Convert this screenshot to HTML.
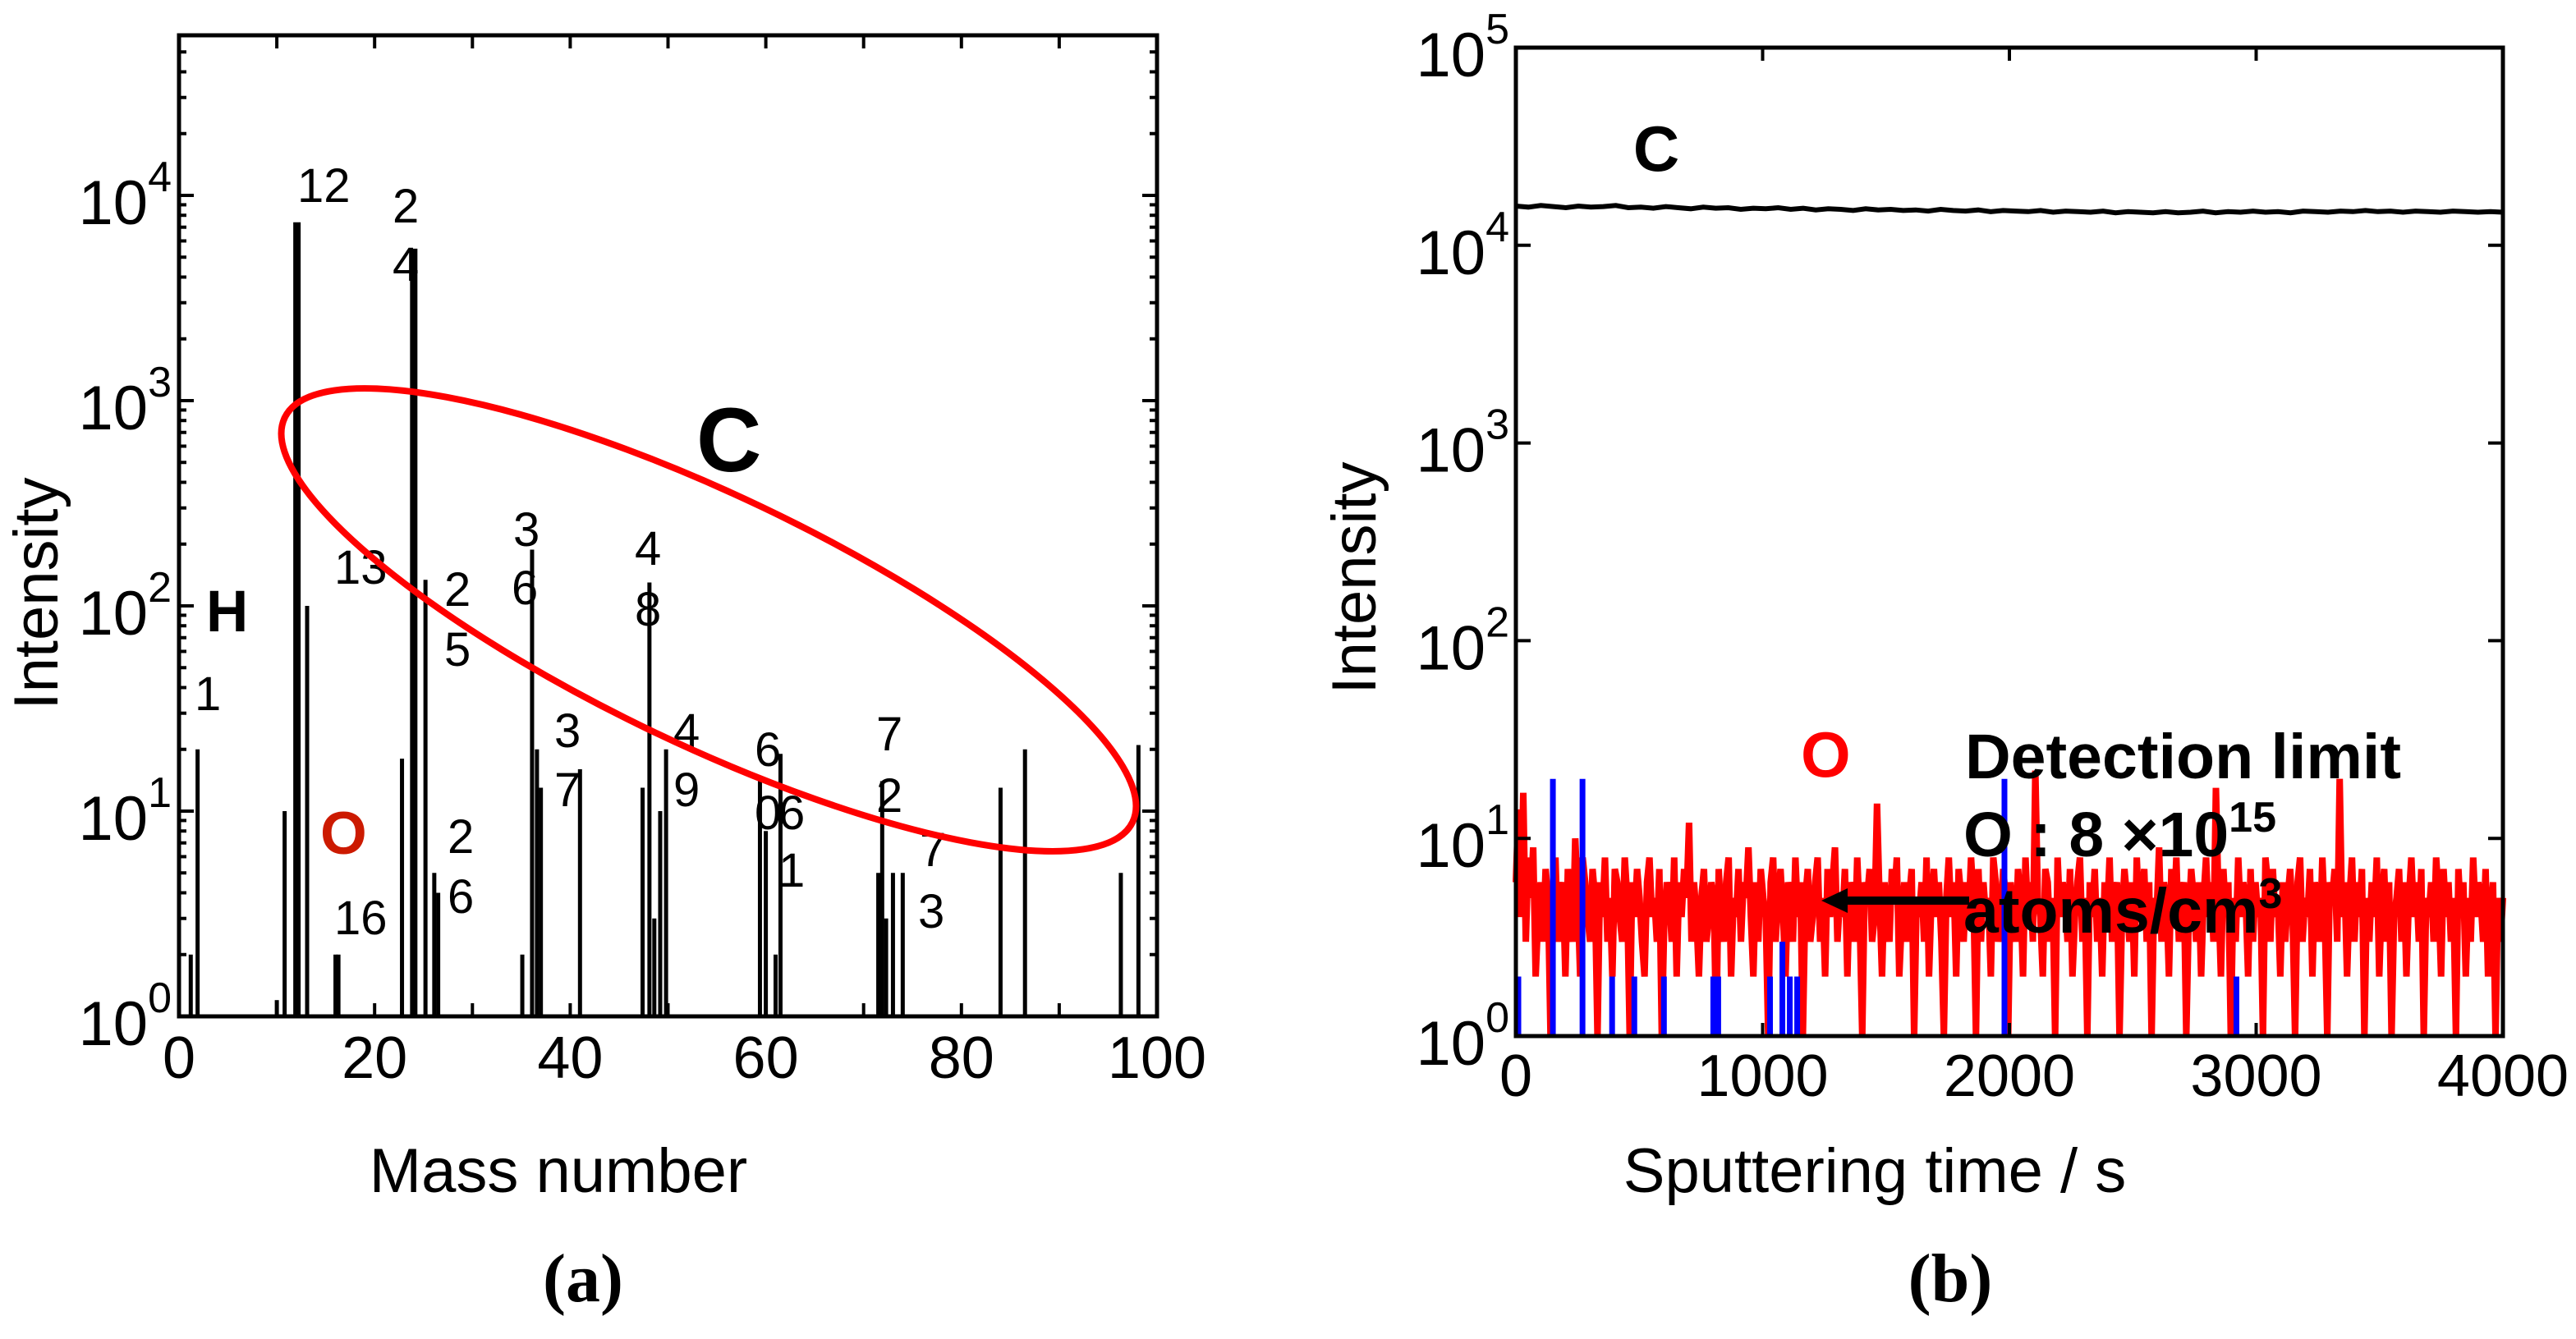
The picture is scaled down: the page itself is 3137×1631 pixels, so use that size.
<!DOCTYPE html>
<html><head><meta charset="utf-8"><style>
html,body{margin:0;padding:0;background:#fff;}
svg{display:block;font-family:"Liberation Sans",sans-serif;}
</style></head><body>
<svg id="fig" width="3137" height="1631" viewBox="0 0 3137 1631" xmlns="http://www.w3.org/2000/svg">
<g id="pa"></g>
<g id="pb"></g>
</svg>
<script>
// ---- Panel (a) data ----
const massPositions = [1.2,1.9,10,10.8,12.06,13.1,16.0,16.3,22.8,24.0,25.2,26.1,26.5,35.1,36.1,36.6,37.0,41,47.4,48.1,48.6,49.2,49.8,59.4,60,61,61.5,71.5,71.9,72.3,73,74,84,86.5,96.3,98.1];
const massIntensity = [2,20,1.2,10,7400,100,2,2,18,5500,134,5,4,2,188,20,13,16,13,130,3,10,20,14,8,2,19,5,14,3,5,5,13,20,5,21];
const yTickExpA = [0,1,2,3,4];
const xTicksA = [0,20,40,60,80,100];
// ---- Panel (b) data ----
const carbonCounts = [15800,15600,15900,15700,15500,15800,15600,15700,15900,15500,15600,15400,15700,15500,15300,15600,15400,15500,15200,15400,15300,15500,15200,15400,15100,15300,15200,15000,15300,15100,15200,15000,15100,14900,15200,15000,14900,15100,14800,15000,14900,14800,15000,14700,14900,14800,14700,14900,14600,14800,14700,14600,14800,14600,14700,14900,14600,14800,14700,14900,14700,14800,14600,14900,14800,14700,14900,14800,15000,14800,14900,14700,14900,14800,14700,14900,14800,14700,14800,14700];
const oxygenCounts = [6,14,4,17,3,8,5,9,2,4,6,3,7,5,1,4,8,3,5,6,2,7,4,3,10,5,2,8,6,4,3,7,5,1,6,4,8,3,5,2,
7,6,4,3,8,5,1,6,4,7,5,3,2,6,8,4,5,3,7,1,4,6,5,3,8,2,6,4,7,5,12,3,6,4,2,5,7,3,4,6,
5,1,7,4,3,6,8,2,5,4,7,3,6,5,9,4,2,6,3,7,5,4,1,6,8,3,5,7,4,2,6,5,3,8,4,6,1,5,7,3,
4,6,8,3,5,2,7,4,6,9,3,5,4,7,2,6,5,3,8,4,1,6,5,7,3,4,15,5,2,6,4,3,7,5,8,2,4,6,3,5,
7,1,5,4,6,3,8,2,5,7,4,6,3,1,5,8,4,6,2,7,5,3,6,4,8,5,1,7,3,6,4,5,2,8,6,3,4,7,5,1,
6,4,3,7,5,2,8,4,6,3,22,5,4,2,7,6,3,5,1,8,4,6,5,3,7,2,4,6,8,3,5,1,6,4,7,3,5,2,6,4,
8,3,5,6,1,4,7,5,3,6,2,8,4,5,7,3,6,1,5,4,9,3,6,5,2,7,4,8,3,5,6,1,4,7,5,3,6,2,5,8,
4,6,3,18,5,2,7,4,6,1,5,3,8,4,6,5,2,7,3,6,4,5,1,8,6,3,7,4,5,2,6,3,5,7,4,1,6,8,3,5,
4,7,2,6,5,3,8,4,1,6,5,7,3,20,4,6,2,5,8,3,6,4,7,1,5,3,6,4,8,2,5,7,3,6,1,4,5,7,3,6,
2,5,8,4,6,3,7,1,5,4,6,3,8,5,2,7,4,6,3,5,1,7,4,6,2,5,3,8,4,6,5,3,7,2,4,6,1,5,3,5];
const blueTimes = [10,150,270,390,480,600,800,820,1030,1080,1110,1140,1980,2920];
const blueCounts = [2,20,20,2,2,2,2,2,2,3,2,2,20,2];
const yTickExpB = [0,1,2,3,4,5];
const xTicksB = [0,1000,2000,3000,4000];

const NS="http://www.w3.org/2000/svg";
function mk(parent,tag,attrs,text){const e=document.createElementNS(NS,tag);for(const k in attrs)e.setAttribute(k,attrs[k]);if(text!==undefined)e.textContent=text;parent.appendChild(e);return e;}
function powLabel(parent,xEnd,y,exp){
  const t=mk(parent,'text',{x:xEnd,y:y,'text-anchor':'end','font-size':76});
  mk(t,'tspan',{},'10');
  mk(t,'tspan',{dy:-40,'font-size':52},String(exp));
  return t;
}

// ---- Panel (a) axes ----
const A={l:218,r:1409,t:43,b:1238};
const xA=m=>A.l+m*(A.r-A.l)/100;
const yA=v=>A.b-Math.log10(v)*250;
const pa=document.getElementById('pa');
massPositions.forEach((m,i)=>{
  const v=massIntensity[i];
  const ln=mk(pa,'line',{x1:xA(m),x2:xA(m),y1:A.b,y2:yA(v),stroke:'#000','stroke-width':v>1000?9:5});
  
  
});
const fa=mk(pa,'rect',{x:A.l,y:A.t,width:A.r-A.l,height:A.b-A.t,fill:'none',stroke:'#000','stroke-width':5});


for(let e=0;e<=4;e++){for(let k=1;k<=9;k++){const v=k*Math.pow(10,e);const y=yA(v);if(y<A.t)continue;const L=k===1?18:9;
  mk(pa,'line',{x1:A.l,x2:A.l+L,y1:y,y2:y,stroke:'#000','stroke-width':4});
  mk(pa,'line',{x1:A.r,x2:A.r-L,y1:y,y2:y,stroke:'#000','stroke-width':4});}}
yTickExpA.forEach(e=>{const t=powLabel(pa,209,yA(Math.pow(10,e))+35,e);
  
  });
for(let m=10;m<100;m+=10){mk(pa,'line',{x1:xA(m),x2:xA(m),y1:A.t,y2:A.t+16,stroke:'#000','stroke-width':4});mk(pa,'line',{x1:xA(m),x2:xA(m),y1:A.b,y2:A.b-16,stroke:'#000','stroke-width':4});}
xTicksA.forEach(m=>{const t=mk(pa,'text',{x:xA(m),y:1313,'text-anchor':'middle','font-size':72},String(m));
  
  });
let t;
t=mk(pa,'text',{x:680,y:1452,'text-anchor':'middle','font-size':76},'Mass number');


t=mk(pa,'text',{x:0,y:0,'text-anchor':'middle','font-size':76,transform:'translate(70,723) rotate(-90)'},'Intensity');


t=mk(pa,'text',{x:710,y:1585,'text-anchor':'middle','font-size':84,'font-weight':'bold','font-family':'Liberation Serif, serif'},'(a)');


const annA=[['12',362,246],['2',478,271],['4',478,342],['13',407,711],['1',237,865],['2',541,738],['5',541,811],['3',625,665],['6',623,736],['4',773,688],['8',773,762],['3',675,910],['7',675,982],['4',820,910],['9',820,982],['6',919,933],['0',919,1010],['6',948,1010],['1',948,1080],['7',1067,914],['2',1067,989],['7',1120,1055],['3',1118,1130],['16',407,1138],['2',545,1039],['6',545,1112]];
annA.forEach(a=>{const e=mk(pa,'text',{x:a[1],y:a[2],'font-size':58},a[0]);
  
  });
t=mk(pa,'text',{x:251,y:769,'font-size':71,'font-weight':'bold'},'H');


t=mk(pa,'text',{x:390,y:1040,'font-size':73,'font-weight':'bold',fill:'#cc1a00'},'O');


t=mk(pa,'text',{x:848,y:574,'font-size':110,'font-weight':'bold'},'C');


t=mk(pa,'ellipse',{cx:863,cy:755,rx:572,ry:152,fill:'none',stroke:'#ff0000','stroke-width':8,transform:'rotate(25.5 863 755)'});



// ---- Panel (b) ----
const B={l:1846,r:3048,t:58,b:1262};
const xB=s=>B.l+s*(B.r-B.l)/4000;
const yB=v=>B.b-Math.log10(Math.max(v,1))*(B.b-B.t)/5;
const pb=document.getElementById('pb');
let pts=oxygenCounts.map((v,i)=>xB(i*4000/(oxygenCounts.length-1)).toFixed(1)+','+yB(v).toFixed(1)).join(' ');
t=mk(pb,'polyline',{points:pts,fill:'none',stroke:'#ff0000','stroke-width':8,'stroke-linejoin':'bevel'});


blueTimes.forEach((s,i)=>{const e=mk(pb,'line',{x1:xB(s),x2:xB(s),y1:B.b,y2:yB(blueCounts[i]),stroke:'#0000ff','stroke-width':7});
  
  });
pts=carbonCounts.map((v,i)=>xB(i*4000/(carbonCounts.length-1)).toFixed(1)+','+yB(v).toFixed(1)).join(' ');
t=mk(pb,'polyline',{points:pts,fill:'none',stroke:'#000','stroke-width':6});


t=mk(pb,'rect',{x:B.l,y:B.t,width:B.r-B.l,height:B.b-B.t,fill:'none',stroke:'#000','stroke-width':5});


yTickExpB.forEach(e=>{const y=yB(Math.pow(10,e));
  mk(pb,'line',{x1:B.l,x2:B.l+18,y1:y,y2:y,stroke:'#000','stroke-width':4});
  mk(pb,'line',{x1:B.r,x2:B.r-18,y1:y,y2:y,stroke:'#000','stroke-width':4});
  const tt=powLabel(pb,1838,y+35,e);
  
  });
xTicksB.forEach(s=>{const x=xB(s);
  mk(pb,'line',{x1:x,x2:x,y1:B.t,y2:B.t+16,stroke:'#000','stroke-width':4});
  mk(pb,'line',{x1:x,x2:x,y1:B.b,y2:B.b-16,stroke:'#000','stroke-width':4});
  const tt=mk(pb,'text',{x:x,y:1335,'text-anchor':'middle','font-size':72},String(s));
  
  });
t=mk(pb,'text',{x:2283,y:1452,'text-anchor':'middle','font-size':76},'Sputtering time / s');


t=mk(pb,'text',{x:0,y:0,'text-anchor':'middle','font-size':76,transform:'translate(1675,704) rotate(-90)'},'Intensity');


t=mk(pb,'text',{x:2375,y:1585,'text-anchor':'middle','font-size':84,'font-weight':'bold','font-family':'Liberation Serif, serif'},'(b)');


t=mk(pb,'text',{x:2017,y:208,'text-anchor':'middle','font-size':78,'font-weight':'bold'},'C');


t=mk(pb,'text',{x:2193,y:946,'font-size':78,'font-weight':'bold',fill:'#ff0000'},'O');


t=mk(pb,'line',{x1:2245,x2:2398,y1:1097,y2:1097,stroke:'#000','stroke-width':10});


mk(pb,'polygon',{points:'2218,1097 2250,1082 2250,1112',fill:'#000'});
t=mk(pb,'text',{x:2393,y:948,'font-size':77,'font-weight':'bold',textLength:531,lengthAdjust:'spacingAndGlyphs'},'Detection limit');


t=mk(pb,'text',{x:2391,y:1043,'font-size':77,'font-weight':'bold'});


mk(t,'tspan',{},'O : 8  ×10');
mk(t,'tspan',{dy:-30,'font-size':52},'15');
t=mk(pb,'text',{x:2391,y:1136,'font-size':77,'font-weight':'bold'});


mk(t,'tspan',{},'atoms/cm');
mk(t,'tspan',{dy:-30,'font-size':52},'3');
</script>
</body></html>
